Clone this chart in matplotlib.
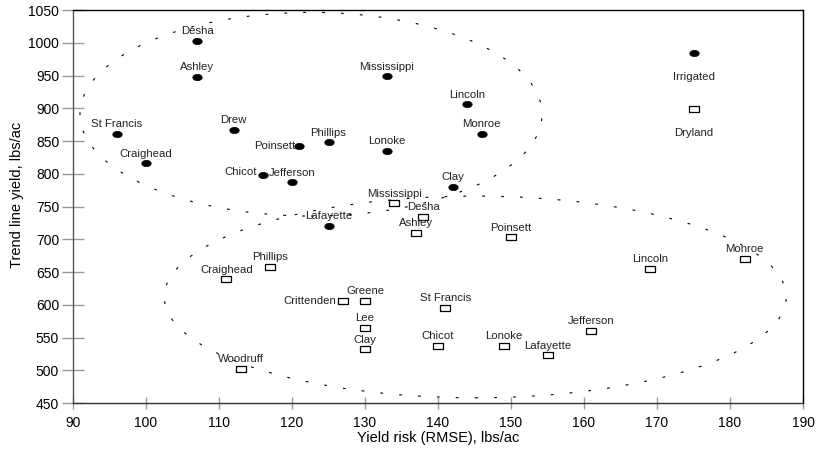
import numpy as np
import matplotlib
matplotlib.use("Agg")
import matplotlib.pyplot as plt
from matplotlib.path import Path
from matplotlib.transforms import Affine2D
from matplotlib.patches import Ellipse

OUTFILE = "out.png"

plt.rcParams['font.family'] = ['Liberation Sans', 'DejaVu Sans']

# irrigated counties: (risk, yield)
IRR_NAMES = ['Desha', 'Ashley', 'St Francis', 'Craighead', 'Drew', 'Poinsett',
             'Phillips', 'Chicot', 'Jefferson', 'Mississippi', 'Lincoln',
             'Monroe', 'Lonoke', 'Clay', 'Lafayette']
IRR_X = [107, 107, 96, 100, 112, 121, 125, 116, 120, 133, 144, 146, 133, 142, 125]
IRR_Y = [1003, 948, 861, 816, 867, 842, 848, 798, 787, 949, 906, 861, 835, 780, 720]

# dryland counties
DRY_NAMES = ['Mississippi', 'Desha', 'Ashley', 'Poinsett', 'Crittenden', 'Greene',
             'St Francis', 'Lee', 'Clay', 'Chicot', 'Lonoke', 'Lafayette',
             'Jefferson', 'Lincoln', 'Monroe', 'Craighead', 'Phillips', 'Woodruff']
DRY_X = [134, 138, 137, 150, 127, 130, 141, 130, 130, 140, 149, 155, 161, 169, 182, 111, 117, 113]
DRY_Y = [755, 734, 710, 703, 606, 606, 595, 565, 532, 537, 537, 523, 560, 655, 670, 639, 658, 502]

# key entries
KEY_X = [175, 175]
KEY_Y = [984, 899]
KEY_NAMES = ['Irrigated', 'Dryland']

# label placement exceptions (offset in points, ha, va)
IRR_LABEL_POS = {'Poinsett': ((-3, 0), 'right', 'center'),
                 'Chicot': ((-4, 2), 'right', 'center')}
DRY_LABEL_POS = {'Crittenden': ((-5, 0), 'right', 'center')}

LBL_SIZE = 8.2

ell = Path(Affine2D().scale(1.5, 1.0).transform(Path.unit_circle().vertices),
           Path.unit_circle().codes)
rect = Path([(-1.6, -1), (1.6, -1), (1.6, 1), (-1.6, 1), (-1.6, -1)],
            [Path.MOVETO, Path.LINETO, Path.LINETO, Path.LINETO, Path.CLOSEPOLY])

fig = plt.figure(figsize=(8.17, 4.58), dpi=100)
ax = fig.add_axes([0.0894, 0.120, 0.8935, 0.858])

ax.plot(IRR_X, IRR_Y, ls='none', marker=ell, ms=6.8, mfc='black', mec='black', mew=0.5)
ax.plot(DRY_X, DRY_Y, ls='none', marker=rect, ms=6.6, mfc='white', mec='black', mew=0.9)
ax.plot(KEY_X[:1], KEY_Y[:1], ls='none', marker=ell, ms=6.8, mfc='black', mec='black', mew=0.5)
ax.plot(KEY_X[1:], KEY_Y[1:], ls='none', marker=rect, ms=6.6, mfc='white', mec='black', mew=0.9)

def label(names, xs, ys, special):
    for n, x, y in zip(names, xs, ys):
        off, ha, va = special.get(n, ((0, 7), 'center', 'center'))
        ax.annotate(n, (x, y), xytext=off, textcoords='offset points',
                    ha=ha, va=va, fontsize=LBL_SIZE, color='#222222')

label(IRR_NAMES, IRR_X, IRR_Y, IRR_LABEL_POS)
label(DRY_NAMES, DRY_X, DRY_Y, DRY_LABEL_POS)
for n, x, y in zip(KEY_NAMES, KEY_X, KEY_Y):
    ax.annotate(n, (x, y), xytext=(0, -17), textcoords='offset points',
                ha='center', va='center', fontsize=LBL_SIZE, color='#222222')

# grouping ellipses
ax.add_patch(Ellipse((122.6, 891), 63.3, 311, fill=False, ec='black',
                     lw=0.8, ls=(0, (2.5, 14.5))))
ax.add_patch(Ellipse((145.1, 612), 85.2, 308, fill=False, ec='black',
                     lw=0.8, ls=(0, (2.5, 14.5))))

ax.set_xlim(90, 190)
ax.set_ylim(450, 1050)
ax.set_xticks(np.arange(90, 191, 10))
ax.set_yticks(np.arange(450, 1051, 50))
ax.tick_params(axis='y', direction='inout', length=16, width=1, color='#999999',
               labelsize=10, pad=2)
ax.tick_params(axis='x', direction='inout', length=8, width=1, color='#999999',
               labelsize=10, pad=5)
ax.spines['left'].set_color('#555555')
ax.spines['bottom'].set_color('#333333')
for s in ax.spines.values():
    s.set_linewidth(1)

ax.set_xlabel('Yield risk (RMSE), lbs/ac', fontsize=10.5, labelpad=1)
ax.set_ylabel('Trend line yield, lbs/ac', fontsize=10.5)
ax.yaxis.set_label_coords(-0.067, 0.53)

fig.savefig(OUTFILE, dpi=100)
